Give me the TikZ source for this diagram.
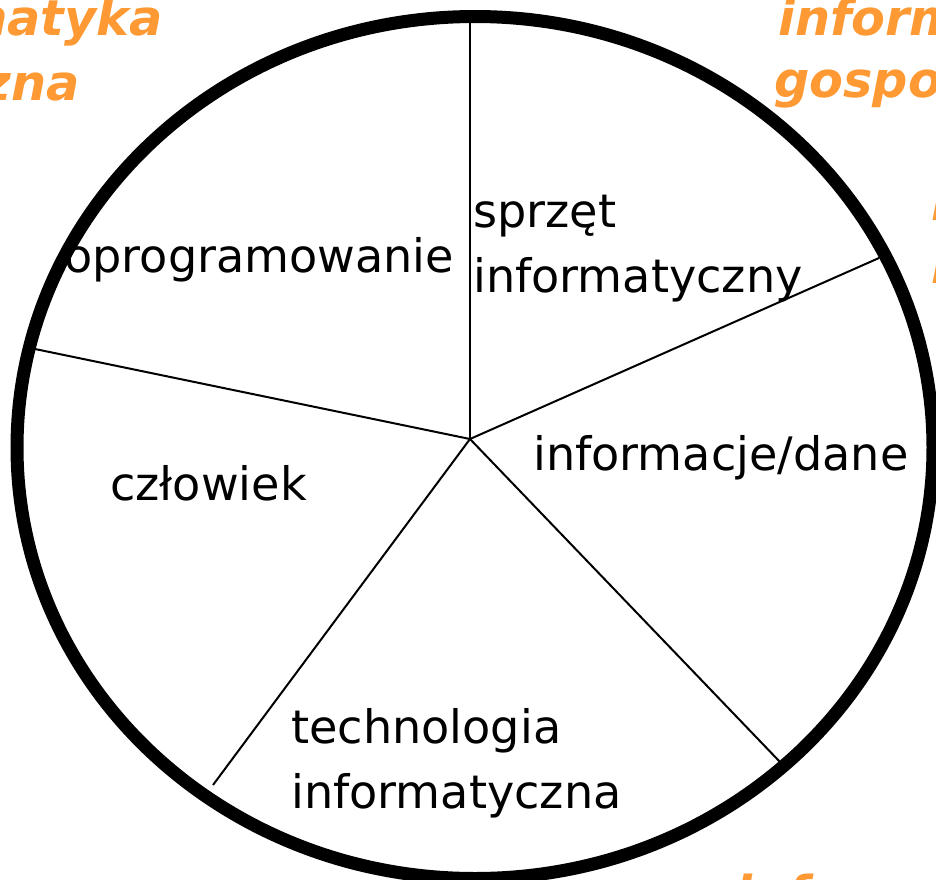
\documentclass[tikz,border=0pt]{standalone}
\usepackage{fontspec}
\setmainfont{DejaVu Sans}
\definecolor{accent}{RGB}{255,153,51}
\begin{document}
\begin{tikzpicture}[x=0.75pt,y=-0.75pt,
  bgword/.style={inner sep=0pt,text=accent,font=\fontsize{37}{48}\selectfont\bfseries\itshape},
  label/.style={inner sep=0pt,align=left,anchor=base west,font=\fontsize{34.6}{46.5}\selectfont},
  rim/.style={draw=black,line width=9.75pt,fill=white},
  spoke/.style={draw=black,line width=1.5pt}]
\useasboundingbox (0,0) rectangle (936,879);
\clip (0,0) rectangle (936,879);
% headings in the background, partly covered by the disc
\node[bgword,anchor=base east] (tl1) at (163,35) {informatyka};
\node[bgword,anchor=base east] (tl2) at (80,100) {ekonomiczna};
\node[bgword,anchor=base west] (tr1) at (778,35) {informatyka};
\node[bgword,anchor=base west] (tr2) at (774,97) {gospodarcza};
\node[bgword,anchor=base west] (r1) at (931,220) {informatyka};
\node[bgword,anchor=base west] (r2) at (931,283) {informatyka};
\node[bgword,anchor=base west] (br) at (735,911) {informatyka};
% the disc
\path[rim] (475,447.5) ellipse [x radius=458, y radius=431];
% spokes from the hub to the rim
\coordinate (hub) at (470,439);
\coordinate (e1) at (470,22);
\coordinate (e2) at (879,258);
\coordinate (e3) at (781,763);
\coordinate (e4) at (213,785);
\coordinate (e5) at (35,349);
\foreach \e in {e1,e2,e3,e4,e5} \draw[spoke] (hub) -- (\e);
% sector labels (a two-line label is anchored at its last baseline)
\node[label] (hw) at (473,292) {sprzęt\\[2pt]informatyczny};
\node[label] (sw) at (64,272) {oprogramowanie};
\node[label] (data) at (533,470) {informacje/dane};
\node[label] (man) at (110,500) {człowiek};
\node[label] (tech) at (291,808) {technologia\\[2pt]informatyczna};
\end{tikzpicture}
\end{document}
